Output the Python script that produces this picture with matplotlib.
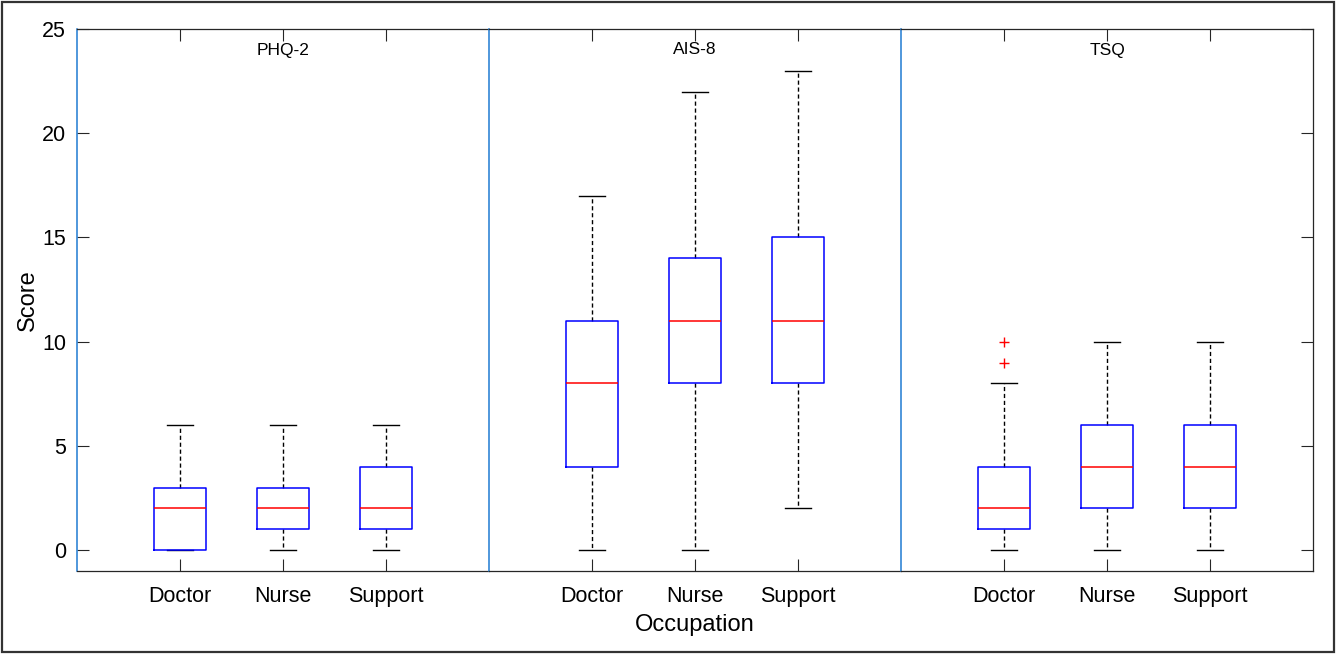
import matplotlib
matplotlib.use("Agg")
import matplotlib.pyplot as plt
from matplotlib.patches import Rectangle

plt.rcParams['font.family'] = ['Liberation Sans', 'DejaVu Sans']

panels = ["PHQ-2", "AIS-8", "TSQ"]
groups = ["Doctor", "Nurse", "Support"]
# per panel, per group: whislo, q1, med, q3, whishi
whislo = [[0, 0, 0], [0, 0, 2], [0, 0, 0]]
q1 = [[0, 1, 1], [4, 8, 8], [1, 2, 2]]
med = [[2, 2, 2], [8, 11, 11], [2, 4, 4]]
q3 = [[3, 3, 4], [11, 14, 15], [4, 6, 6]]
whishi = [[6, 6, 6], [17, 22, 23], [8, 10, 10]]
fliers = [[[], [], []], [[], [], []], [[9, 10], [], []]]

W, H = 1336, 654
fig = plt.figure(figsize=(W / 100, H / 100), dpi=100)
fig.patches.append(Rectangle((2 / W, 2 / H), (W - 4) / W, (H - 4) / H,
                             transform=fig.transFigure, fill=False,
                             edgecolor='#333333', linewidth=1.6))

left_px, right_px, top_px, bot_px = 77, 1313, 29, 571
pw = (right_px - left_px) / 3
dark = '#262626'
sep = '#1f7ad2'

axes = []
for i in range(3):
    x0 = left_px + i * pw
    ax = fig.add_axes([x0 / W, 1 - bot_px / H, pw / W, (bot_px - top_px) / H])
    stats = []
    for j in range(3):
        stats.append(dict(whislo=whislo[i][j], q1=q1[i][j], med=med[i][j],
                          q3=q3[i][j], whishi=whishi[i][j], fliers=fliers[i][j],
                          label=groups[j]))
    ax.bxp(stats, positions=[1, 2, 3], widths=0.5, showfliers=True,
           boxprops=dict(color='#0000ff', linewidth=1.1, zorder=3),
           medianprops=dict(color='#ff0000', linewidth=1.1, zorder=4),
           whiskerprops=dict(color='black', linewidth=1.0, linestyle=(0, (3, 2)), zorder=2),
           capprops=dict(color='black', linewidth=1.0, zorder=2),
           flierprops=dict(marker='+', markeredgecolor='#ff0000', markersize=7,
                           markeredgewidth=1.0, linestyle='none'),
           capwidths=0.25)
    ax.set_xlim(0, 4)
    ax.set_ylim(-1, 25)
    ax.set_xticks([1, 2, 3])
    ax.set_xticklabels(groups, fontsize=15.5)
    ax.tick_params(axis='x', direction='in', length=8.5, width=0.8, color=dark,
                   top=True, bottom=True, pad=11, labelcolor='black')
    ax.text(0.5, 1 - 21 / (bot_px - top_px), panels[i], transform=ax.transAxes,
            ha='center', va='center', fontsize=12.5)
    for s in ['top', 'bottom']:
        ax.spines[s].set_color(dark)
        ax.spines[s].set_linewidth(0.9)
    ax.spines['left'].set_color(sep)
    ax.spines['left'].set_linewidth(1.1)
    if i < 2:
        ax.spines['right'].set_visible(False)
    else:
        ax.spines['right'].set_color(dark)
        ax.spines['right'].set_linewidth(0.9)
    ax.set_yticks([0, 5, 10, 15, 20, 25])
    if i == 0:
        ax.tick_params(axis='y', direction='in', length=8.5, width=0.8, color=dark,
                       left=True, right=False, labelsize=15.5, pad=8)
        ax.set_ylabel("Score", fontsize=17, labelpad=2)
    elif i == 2:
        ax.tick_params(axis='y', direction='in', length=8.5, width=0.8, color=dark,
                       left=False, right=True, labelleft=False)
    else:
        ax.tick_params(axis='y', left=False, right=False, labelleft=False)
    axes.append(ax)

axes[1].set_xlabel("Occupation", fontsize=17, labelpad=5)

fig.savefig("out.png", dpi=100)
